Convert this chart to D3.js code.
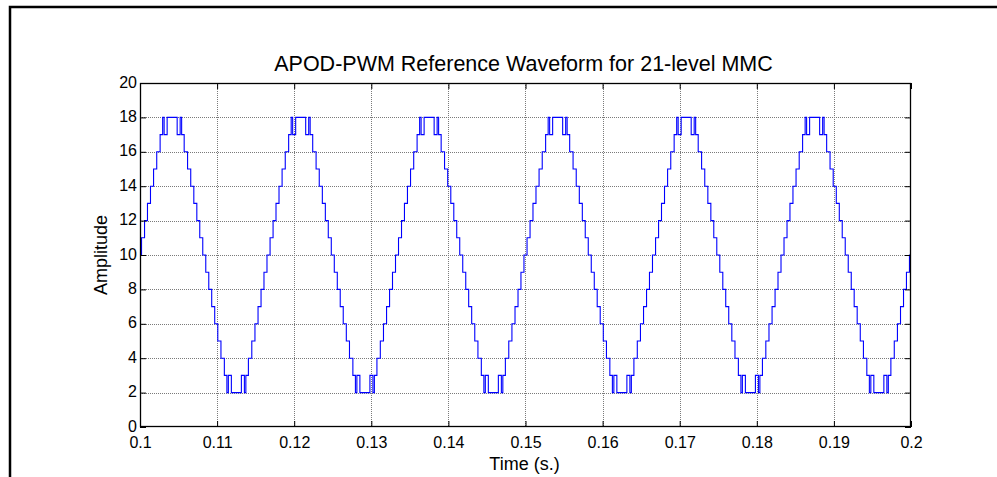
<!DOCTYPE html>
<html><head><meta charset="utf-8">
<script src="https://cdn.jsdelivr.net/npm/d3@7"></script>
<style>
body{margin:0;background:#fff;}
svg text{font-family:"Liberation Sans",Arial,sans-serif;fill:#000;}
</style></head>
<body><svg id="chart" width="997" height="477"></svg>
<script>
// ---- data ----
const xTicks = [0.1,0.11,0.12,0.13,0.14,0.15,0.16,0.17,0.18,0.19,0.2];
const xTickLabels = ["0.1","0.11","0.12","0.13","0.14","0.15","0.16","0.17","0.18","0.19","0.2"];
const yTicks = [0,2,4,6,8,10,12,14,16,18,20];
// level sequence observed in each cycle (identical in all six cycles)
const cycleLevels = [11,12,13,14,15,16,17,18,17,18,17,18,17,16,15,14,13,12,11,10,9,8,7,6,5,4,3,2,3,2,3,2,3,4,5,6,7,8,9,10];
// switching instants (ms) for each cycle
const cycle1 = [100.20,100.59,100.97,101.36,101.76,102.17,102.61,102.94,103.13,103.52,104.82,105.21,105.40,105.73,106.17,106.58,106.98,107.37,107.75,108.14,108.53,108.92,109.30,109.69,110.09,110.50,110.94,111.27,111.46,111.85,113.15,113.54,113.73,114.06,114.50,114.91,115.31,115.70,116.08,116.47];
const cycle2 = [116.87,117.26,117.64,118.03,118.43,118.84,119.28,119.61,119.80,120.19,121.49,121.88,122.07,122.40,122.84,123.25,123.65,124.04,124.42,124.81,125.20,125.59,125.97,126.36,126.76,127.17,127.61,127.94,128.13,128.52,129.82,130.21,130.40,130.73,131.17,131.58,131.98,132.37,132.75,133.14];
const cycle3 = [133.53,133.92,134.30,134.69,135.09,135.50,135.94,136.27,136.46,136.85,138.15,138.54,138.73,139.06,139.50,139.91,140.31,140.70,141.08,141.47,141.86,142.25,142.63,143.02,143.42,143.83,144.27,144.60,144.79,145.18,146.48,146.87,147.06,147.39,147.83,148.24,148.64,149.03,149.41,149.80];
const cycle4 = [150.20,150.59,150.97,151.36,151.76,152.17,152.61,152.94,153.13,153.52,154.82,155.21,155.40,155.73,156.17,156.58,156.98,157.37,157.75,158.14,158.53,158.92,159.30,159.69,160.09,160.50,160.94,161.27,161.46,161.85,163.15,163.54,163.73,164.06,164.50,164.91,165.31,165.70,166.08,166.47];
const cycle5 = [166.87,167.26,167.64,168.03,168.43,168.84,169.28,169.61,169.80,170.19,171.49,171.88,172.07,172.40,172.84,173.25,173.65,174.04,174.42,174.81,175.20,175.59,175.97,176.36,176.76,177.17,177.61,177.94,178.13,178.52,179.82,180.21,180.40,180.73,181.17,181.58,181.98,182.37,182.75,183.14];
const cycle6 = [183.53,183.92,184.30,184.69,185.09,185.50,185.94,186.27,186.46,186.85,188.15,188.54,188.73,189.06,189.50,189.91,190.31,190.70,191.08,191.47,191.86,192.25,192.63,193.02,193.42,193.83,194.27,194.60,194.79,195.18,196.48,196.87,197.06,197.39,197.83,198.24,198.64,199.03,199.41,199.80];
const startLevel = 10, endTime = 200.0;

// ---- build step series ----
const pts = [{t:0.1, v:startLevel}];
[cycle1,cycle2,cycle3,cycle4,cycle5,cycle6].forEach(c=>{
  c.forEach((ms,i)=>pts.push({t:ms/1000, v:cycleLevels[i]}));
});
pts.push({t:endTime/1000, v:pts[pts.length-1].v});

// ---- layout ----
const svg = d3.select("#chart");
const L=140, R=911, T=83, B=427;
const x = d3.scaleLinear().domain([0.1,0.2]).range([L,R]);
const y = d3.scaleLinear().domain([0,20]).range([B,T]);

// figure frame
svg.append("rect").attr("x",10).attr("y",7).attr("width",1100).attr("height",600)
  .attr("fill","none").attr("stroke","#000").attr("stroke-width",2.5);

// grid
const g = svg.append("g");
g.selectAll(".gx").data(xTicks.slice(1,-1)).enter().append("line")
  .attr("x1",d=>Math.round(x(d))+0.5).attr("x2",d=>Math.round(x(d))+0.5).attr("y1",T).attr("y2",B)
  .attr("stroke","#7a7a7a").attr("stroke-width",1).attr("stroke-dasharray","1,1");
g.selectAll(".gy").data(yTicks.slice(1,-1)).enter().append("line")
  .attr("y1",d=>Math.round(y(d))+0.5).attr("y2",d=>Math.round(y(d))+0.5).attr("x1",L).attr("x2",R)
  .attr("stroke","#7a7a7a").attr("stroke-width",1).attr("stroke-dasharray","1,1");

// waveform
const line = d3.line().x(d=>x(d.t)).y(d=>y(d.v)).curve(d3.curveStepAfter);
svg.append("path").datum(pts).attr("d",line).attr("fill","none")
  .attr("stroke","#0000ff").attr("stroke-width",1.1);

// axes (ticks inward)
const tk = 6;
const axB = d3.axisBottom(x).tickValues(xTicks).tickFormat((d,i)=>xTickLabels[i]).tickSizeInner(-tk).tickSizeOuter(0).tickPadding(tk+4);
const axL = d3.axisLeft(y).tickValues(yTicks).tickFormat(d3.format("d")).tickSizeInner(-tk).tickSizeOuter(0).tickPadding(3);
const axT = d3.axisTop(x).tickValues(xTicks).tickFormat("").tickSizeInner(-tk).tickSizeOuter(0);
const axR = d3.axisRight(y).tickValues(yTicks).tickFormat("").tickSizeInner(-tk).tickSizeOuter(0);
function styleAxis(sel){
  sel.select(".domain").remove();
  sel.selectAll("line").attr("stroke","#000");
  sel.selectAll("text").style("font-size","16px").attr("fill","#000");
}
svg.append("g").attr("transform",`translate(0,${B})`).call(axB).call(styleAxis);
const gl = svg.append("g").attr("transform",`translate(${L},0)`).call(axL).call(styleAxis);
gl.selectAll("text").attr("dy","0.25em");
svg.append("g").attr("transform",`translate(0,${T})`).call(axT).call(styleAxis);
svg.append("g").attr("transform",`translate(${R},0)`).call(axR).call(styleAxis);

// box
svg.append("rect").attr("x",L+0.5).attr("y",T+0.5).attr("width",R-L-1).attr("height",B-T-1)
  .attr("fill","none").attr("stroke","#000").attr("stroke-width",1.3);

// texts
svg.append("text").attr("x",(L+R)/2-2).attr("y",71).attr("text-anchor","middle")
  .style("font-size","21.5px").text("APOD-PWM Reference Waveform for 21-level MMC");
svg.append("text").attr("x",(L+R)/2-1).attr("y",470).attr("text-anchor","middle")
  .style("font-size","18px").text("Time (s.)");
svg.append("text").attr("transform",`translate(107,${(T+B)/2}) rotate(-90)`).attr("text-anchor","middle")
  .style("font-size","18px").text("Amplitude");
</script></body></html>
